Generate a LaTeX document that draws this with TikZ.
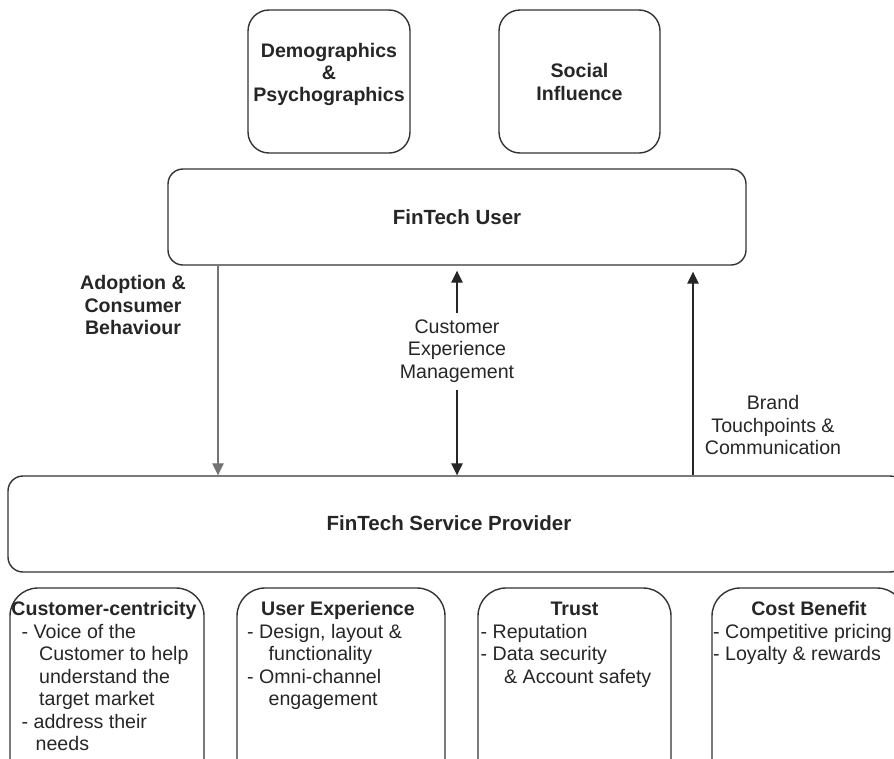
\documentclass[tikz,border=0pt]{standalone}
\usepackage{fontspec}
\setmainfont{Liberation Sans}
\usetikzlibrary{arrows.meta,positioning}

\begin{document}
\begin{tikzpicture}[x=1pt, y=-1pt,
    box/.style={draw=black!80, line width=1.4pt, rounded corners=#1, inner sep=0pt},
    box/.default=15pt,
    txt/.style={font=\fontsize{19.6}{22.4}\selectfont, inner sep=0pt, align=center, text=black!85},
    btxt/.style={txt, font=\fontsize{19.6}{22.4}\selectfont\bfseries},
    big/.style={txt, font=\fontsize{20.5}{24}\selectfont\bfseries},
    list/.style={txt, align=left, anchor=north west},
    flow/.style={-{Triangle[length=12pt,width=11.5pt]}, line width=1.3pt, draw=black!85}]

    \useasboundingbox (0,0) rectangle (894,758);
    \clip (0,0) rectangle (894,758);

    % what shapes the user
    \node[box=21pt, minimum width=162pt, minimum height=143pt] (demo) at (329,81.5) {};
    \node[btxt] (demoTxt) at (329,74.5) {Demographics\\\&\\Psychographics};
    \node[box=21pt, minimum width=161pt, minimum height=143pt] (social) at (579.5,81.5) {};
    \node[btxt] (socialTxt) at (579.5,82) {Social\\Influence};

    % user and provider
    \node[box, big, minimum width=578pt, minimum height=96pt] (user) at (457,217) {FinTech User};
    \node[box, minimum width=897pt, minimum height=96pt] (prov) at (456.5,524) {};
    \node[big] (provTxt) at (449,523) {FinTech Service Provider};

    % links between them
    \coordinate (adoptX) at (218,0);
    \coordinate (brandX) at (693,0);
    \node[btxt] (adopt) at (133,305) {Adoption \&\\Consumer\\Behaviour};
    \node[txt] (cem) at (457,351) {Customer\\Experience\\Management};
    \node[txt] (brand) at (773,425) {Brand\\Touchpoints \&\\Communication};

    \draw[flow, draw=black!55] (user.south -| adoptX) -- (prov.north -| adoptX);
    \draw[flow, shorten <=7pt, shorten >=5pt] (cem.north) -- (cem.north |- user.south);
    \draw[flow, shorten <=8pt] (cem.south) -- (cem.south |- prov.north);
    \draw[flow, shorten >=6pt] (prov.north -| brandX) -- (user.south -| brandX);

    % provider pillars
    \foreach \name/\cx/\w in {cc/107/194, ux/341/208, trust/574.5/193, cost/808.5/193}
        \node[box=28pt, minimum width=\w pt, minimum height=232pt] (\name) at (\cx,704) {};

    \node[btxt, anchor=base] (ccT) at (104,615.5) {Customer-centricity};
    \node[btxt, anchor=base] (uxT) at (338,615.5) {User Experience};
    \node[btxt, anchor=base] (trustT) at (574.5,615.5) {Trust};
    \node[btxt, anchor=base] (costT) at (809,615.5) {Cost Benefit};

    \node[list] (ccL) at (21.5,624) {- Voice of the\\
        \hspace*{17.5pt}Customer to help\\
        \hspace*{17.5pt}understand the\\
        \hspace*{17.5pt}target market\\
        - address their\\
        \hspace*{14pt}needs};
    \node[list] (uxL) at (247,624) {- Design, layout \&\\
        \hspace*{21.5pt}functionality\\
        - Omni-channel\\
        \hspace*{21.5pt}engagement};
    \node[list] (trustL) at (480.5,624) {- Reputation\\
        - Data security\\
        \hspace*{23.5pt}\& Account safety};
    \node[list] (costL) at (713,624) {- Competitive pricing\\
        - Loyalty \& rewards};

\end{tikzpicture}
\end{document}
